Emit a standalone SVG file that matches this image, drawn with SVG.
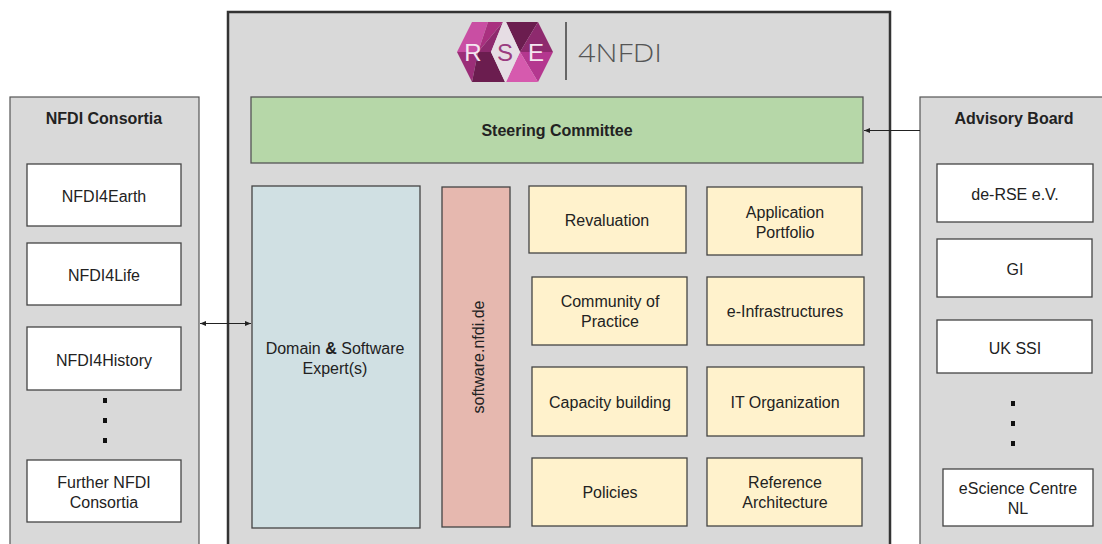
<svg xmlns="http://www.w3.org/2000/svg" width="1102" height="544" viewBox="0 0 1102 544">
<defs>
<style>
text{font-family:"Liberation Sans",Arial,sans-serif;font-size:16px;fill:#222;text-anchor:middle}
.b{font-weight:bold}
.panel{fill:#d9d9d9;stroke:#555;stroke-width:1.2}
.w{fill:#fff;stroke:#444;stroke-width:1.3}
.y{fill:#fff2cc;stroke:#444;stroke-width:1.3}
.dot{fill:#111}
.con{stroke:#222;stroke-width:1.2;fill:none}
</style>
<marker id="ah" viewBox="0 0 10 10" refX="10" refY="5" markerWidth="6" markerHeight="6" orient="auto-start-reverse" markerUnits="userSpaceOnUse">
<path d="M0,1 L10,5 L0,9 z" fill="#222"/>
</marker>
</defs>
<rect width="1102" height="544" fill="#fff"/>

<g id="main">
<rect x="228" y="12" width="662" height="540" fill="#d9d9d9" stroke="#333" stroke-width="2.5"/>
</g>

<g id="logo">
<polygon points="457,52 472,22 488,22 478,52" fill="#c94ea3"/>
<polygon points="488,22 503,22 478,52" fill="#a9307f"/>
<polygon points="503,22 491,52 478,52" fill="#8e2a6e"/>
<polygon points="457,52 478,52 472,82" fill="#9b2e78"/>
<polygon points="478,52 491,52 505,82 472,82" fill="#6b1d4f"/>
<polygon points="506,22 538,22 520,52" fill="#6b1d4f"/>
<polygon points="538,22 553,52 520,52" fill="#8e2a6e"/>
<polygon points="520,52 553,52 538,82" fill="#b4378f"/>
<polygon points="506,82 520,52 538,82" fill="#d65aae"/>
<polygon points="491,52 503,22 506,22 520,52 506,82 505,82" fill="#e6dde4"/>
<text x="473" y="61" style="font-family:'Liberation Sans',sans-serif;font-size:24px;fill:#f4e6f0">R</text>
<text x="505" y="61" style="font-family:'Liberation Sans',sans-serif;font-size:24px;fill:#9a3b80">S</text>
<text x="536" y="61" style="font-family:'Liberation Sans',sans-serif;font-size:24px;fill:#f4e6f0">E</text>
<line x1="566" y1="22" x2="566" y2="80" stroke="#666" stroke-width="2"/>
<text x="578" y="62" textLength="84" lengthAdjust="spacingAndGlyphs" style="text-anchor:start;font-family:'Open Sans','Liberation Sans',sans-serif;font-weight:300;font-size:25px;fill:#555">4NFDI</text>
</g>

<g id="nfdi-consortia">
<rect class="panel" x="10" y="97" width="189" height="460"/>
<text class="b" x="104" y="124">NFDI Consortia</text>
</g>
<g id="nfdi4earth"><rect class="w" x="27" y="164" width="154" height="62"/><text x="104" y="202">NFDI4Earth</text></g>
<g id="nfdi4life"><rect class="w" x="27" y="243" width="154" height="62"/><text x="104" y="281">NFDI4Life</text></g>
<g id="nfdi4history"><rect class="w" x="27" y="327" width="154" height="63"/><text x="104" y="366">NFDI4History</text></g>
<g id="left-dots"><rect class="dot" x="103" y="398" width="4" height="5"/><rect class="dot" x="103" y="418" width="4" height="5"/><rect class="dot" x="103" y="438" width="4" height="5"/></g>
<g id="further-nfdi"><rect class="w" x="27" y="460" width="154" height="62"/><text x="104" y="488">Further NFDI</text><text x="104" y="508">Consortia</text></g>

<g id="advisory-board">
<rect class="panel" x="920" y="97" width="200" height="460"/>
<text class="b" x="1014" y="124">Advisory Board</text>
</g>
<g id="de-rse"><rect class="w" x="937" y="164" width="156" height="58"/><text x="1015" y="200">de-RSE e.V.</text></g>
<g id="gi"><rect class="w" x="937" y="239" width="155" height="58"/><text x="1015" y="275">GI</text></g>
<g id="uk-ssi"><rect class="w" x="937" y="320" width="155" height="53"/><text x="1015" y="354">UK SSI</text></g>
<g id="right-dots"><rect class="dot" x="1011" y="401" width="4" height="5"/><rect class="dot" x="1011" y="421" width="4" height="5"/><rect class="dot" x="1011" y="441" width="4" height="5"/></g>
<g id="escience"><rect class="w" x="943" y="469" width="150" height="57"/><text x="1018" y="494">eScience Centre</text><text x="1018" y="514">NL</text></g>

<g id="steering-committee"><rect x="251" y="97" width="612" height="66" fill="#b6d7a8" stroke="#555" stroke-width="1.3"/><text class="b" x="557" y="136">Steering Committee</text></g>

<g id="domain-experts"><rect x="252" y="186" width="168" height="342" fill="#d0e0e3" stroke="#444" stroke-width="1.3"/><text x="335" y="354">Domain <tspan font-weight="bold">&amp;</tspan> Software</text><text x="335" y="374">Expert(s)</text></g>

<g id="software-nfdi"><rect x="442" y="187" width="68" height="340" fill="#e6b8af" stroke="#444" stroke-width="1.3"/><text transform="translate(484 357) rotate(-90)">software.nfdi.de</text></g>

<g id="revaluation"><rect class="y" x="529" y="186" width="157" height="67"/><text x="607" y="226">Revaluation</text></g>
<g id="application-portfolio"><rect class="y" x="707" y="187" width="155" height="68"/><text x="785" y="218">Application</text><text x="785" y="238">Portfolio</text></g>
<g id="community-of-practice"><rect class="y" x="532" y="277" width="155" height="68"/><text x="610" y="307">Community of</text><text x="610" y="327">Practice</text></g>
<g id="e-infrastructures"><rect class="y" x="707" y="277" width="157" height="68"/><text x="785" y="317">e-Infrastructures</text></g>
<g id="capacity-building"><rect class="y" x="532" y="367" width="155" height="69"/><text x="610" y="408">Capacity building</text></g>
<g id="it-organization"><rect class="y" x="707" y="367" width="157" height="69"/><text x="785" y="408">IT Organization</text></g>
<g id="policies"><rect class="y" x="532" y="458" width="155" height="68"/><text x="610" y="498">Policies</text></g>
<g id="reference-architecture"><rect class="y" x="707" y="458" width="155" height="68"/><text x="785" y="488">Reference</text><text x="785" y="508">Architecture</text></g>

<g id="connectors">
<line class="con" x1="200" y1="323.5" x2="251" y2="323.5" marker-start="url(#ah)" marker-end="url(#ah)"/>
<line class="con" x1="920" y1="130.5" x2="864" y2="130.5" marker-end="url(#ah)"/>
</g>
</svg>
